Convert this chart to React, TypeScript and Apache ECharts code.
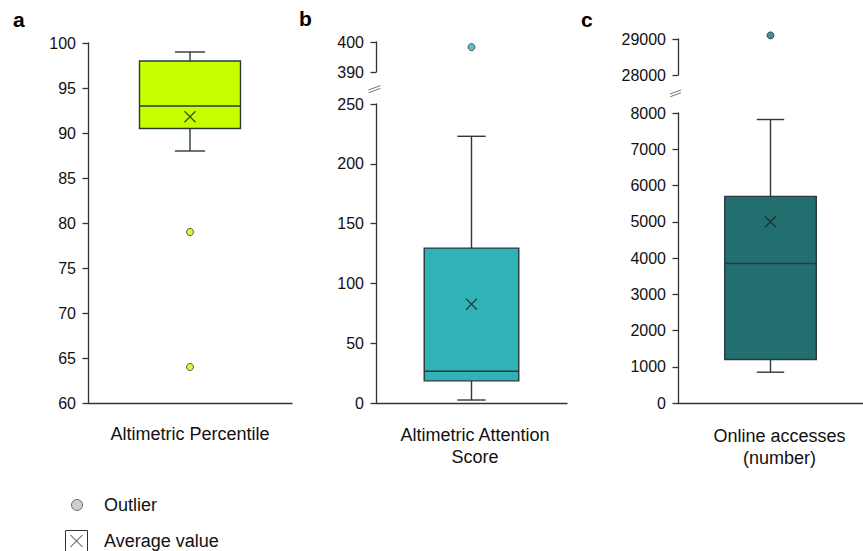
import React, { useEffect, useRef } from "react";
import * as echarts from "echarts";

// ---- data ----
const categoryA = ["Altimetric Percentile"];
const categoryB = ["Altimetric Attention\nScore"];
const categoryC = ["Online accesses\n(number)"];

// [min, q1, median, q3, max]
const boxA = [88, 90.5, 93, 98, 99];
const boxB = [2.5, 18.5, 26.5, 129.5, 223];
const boxC = [850, 1200, 3850, 5700, 7820];

const meanA = 91.8;
const meanB = 82.5;
const meanC = 5000;

const outliersA = [79, 64];
const outliersB = [398.3];
const outliersC = [29100];

// axis ranges [min, max, interval]
const axisA = [60, 100, 5];
const axisBLow = [0, 250, 50];
const axisBHigh = [390, 400, 10];
const axisCLow = [0, 8000, 1000];
const axisCHigh = [28000, 29000, 1000];

const colorA = "#c8ff00";
const colorB = "#30b3b6";
const colorC = "#226f70";
const edge = "#2b383c";
const axisColor = "#333";
const font = "'Liberation Sans', Arial, Helvetica, sans-serif";

function boxRender(fill: string) {
  return (params: any, api: any) => {
    const x = api.value(0);
    const pMin = api.coord([x, api.value(1)]);
    const pQ1 = api.coord([x, api.value(2)]);
    const pMed = api.coord([x, api.value(3)]);
    const pQ3 = api.coord([x, api.value(4)]);
    const pMax = api.coord([x, api.value(5)]);
    const band = api.size([1, 0])[0];
    const bw = band * 0.495;
    const cw = band * 0.148;
    const cx = pMed[0];
    const ls = { stroke: edge, lineWidth: 1.4 };
    return {
      type: "group",
      children: [
        { type: "line", shape: { x1: cx, y1: pQ1[1], x2: cx, y2: pMin[1] }, style: ls },
        { type: "line", shape: { x1: cx - cw / 2, y1: pMin[1], x2: cx + cw / 2, y2: pMin[1] }, style: ls },
        { type: "line", shape: { x1: cx, y1: pQ3[1], x2: cx, y2: pMax[1] }, style: ls },
        { type: "line", shape: { x1: cx - cw / 2, y1: pMax[1], x2: cx + cw / 2, y2: pMax[1] }, style: ls },
        {
          type: "rect",
          shape: { x: cx - bw / 2, y: pQ3[1], width: bw, height: pQ1[1] - pQ3[1] },
          style: { fill, stroke: edge, lineWidth: 1.4 },
        },
        { type: "line", shape: { x1: cx - bw / 2, y1: pMed[1], x2: cx + bw / 2, y2: pMed[1] }, style: ls },
      ],
    };
  };
}

const crossPath = "path://M0 0L10 10M10 0L0 10";

function yAxis(gridIndex: number, r: number[], tickLen = 5.5) {
  return {
    type: "value",
    gridIndex,
    min: r[0],
    max: r[1],
    interval: r[2],
    axisLine: { show: true, lineStyle: { color: axisColor, width: 1.3 } },
    axisTick: { show: true, length: tickLen, lineStyle: { color: axisColor, width: 1.3 } },
    axisLabel: {
      margin: 12,
      color: "#111",
      fontSize: 16,
      fontFamily: font,
      formatter: (v: number) => String(v),
    },
    splitLine: { show: false },
  };
}

function xAxis(gridIndex: number, data: string[], showLine: boolean, name?: string, gap = 20, padLeft = 0) {
  return {
    type: "category",
    gridIndex,
    data,
    axisLine: { show: showLine, lineStyle: { color: axisColor, width: 1.3 } },
    axisTick: { show: false },
    axisLabel: { show: false },
    name: name || "",
    nameLocation: "middle",
    nameGap: gap,
    nameTextStyle: {
      fontSize: 18,
      color: "#111",
      fontFamily: font,
      lineHeight: 22,
      padding: [0, 0, 0, padLeft],
    },
  };
}

export default function App() {
  const ref = useRef<HTMLDivElement>(null);
  useEffect(() => {
    if (!ref.current) return;
    const chart = echarts.init(ref.current, null, { renderer: "svg" });
    const meanStyle = { color: "rgba(0,0,0,0)", borderColor: "#222", borderWidth: 1.3 };
    const outStyle = (c: string) => ({ color: c, borderColor: edge, borderWidth: 1 });
    const option: any = {
      animation: false,
      backgroundColor: "#fff",
      grid: [
        { left: 88, top: 43, width: 204, height: 360 },
        { left: 376, top: 42, width: 191, height: 30 },
        { left: 376, top: 104, width: 191, height: 299 },
        { left: 678, top: 39, width: 198, height: 36 },
        { left: 678, top: 113, width: 198, height: 290 },
      ],
      xAxis: [
        xAxis(0, categoryA, true, categoryA[0], 20, 0),
        xAxis(1, categoryB, false),
        xAxis(2, categoryB, true, categoryB[0], 21, 7),
        xAxis(3, categoryC, false),
        xAxis(4, categoryC, true, categoryC[0], 22, 18),
      ],
      yAxis: [
        yAxis(0, axisA),
        yAxis(1, axisBHigh),
        yAxis(2, axisBLow),
        yAxis(3, axisCHigh),
        yAxis(4, axisCLow),
      ],
      series: [
        {
          type: "custom",
          xAxisIndex: 0,
          yAxisIndex: 0,
          renderItem: boxRender(colorA),
          encode: { x: 0, y: [1, 2, 3, 4, 5] },
          data: [[0, ...boxA]],
        },
        {
          type: "custom",
          xAxisIndex: 2,
          yAxisIndex: 2,
          renderItem: boxRender(colorB),
          encode: { x: 0, y: [1, 2, 3, 4, 5] },
          data: [[0, ...boxB]],
        },
        {
          type: "custom",
          xAxisIndex: 4,
          yAxisIndex: 4,
          renderItem: boxRender(colorC),
          encode: { x: 0, y: [1, 2, 3, 4, 5] },
          data: [[0, ...boxC]],
        },
        {
          type: "scatter", xAxisIndex: 0, yAxisIndex: 0, symbol: crossPath, symbolSize: 11,
          itemStyle: meanStyle, data: [[0, meanA]], z: 5,
        },
        {
          type: "scatter", xAxisIndex: 2, yAxisIndex: 2, symbol: crossPath, symbolSize: 11,
          itemStyle: meanStyle, data: [[0, meanB]], z: 5,
        },
        {
          type: "scatter", xAxisIndex: 4, yAxisIndex: 4, symbol: crossPath, symbolSize: 11,
          itemStyle: meanStyle, data: [[0, meanC]], z: 5,
        },
        {
          type: "scatter", xAxisIndex: 0, yAxisIndex: 0, symbol: "circle", symbolSize: 7,
          itemStyle: outStyle(colorA), data: outliersA.map((v) => [0, v]),
        },
        {
          type: "scatter", xAxisIndex: 1, yAxisIndex: 1, symbol: "circle", symbolSize: 7,
          itemStyle: outStyle(colorB), data: outliersB.map((v) => [0, v]), clip: false,
        },
        {
          type: "scatter", xAxisIndex: 3, yAxisIndex: 3, symbol: "circle", symbolSize: 7,
          itemStyle: outStyle(colorC), data: outliersC.map((v) => [0, v]), clip: false,
        },
      ],
      graphic: [
        { type: "text", x: 13, y: 19, style: { text: "a", font: `bold 21px ${font}`, fill: "#000", verticalAlign: "middle" } },
        { type: "text", x: 299, y: 18, style: { text: "b", font: `bold 21px ${font}`, fill: "#000", verticalAlign: "middle" } },
        { type: "text", x: 581, y: 19, style: { text: "c", font: `bold 21px ${font}`, fill: "#000", verticalAlign: "middle" } },
        // axis break marks
        { type: "line", shape: { x1: 368.5, y1: 90, x2: 380.5, y2: 85.5 }, style: { stroke: "#666", lineWidth: 0.9 } },
        { type: "line", shape: { x1: 368.5, y1: 92.8, x2: 380.5, y2: 88.3 }, style: { stroke: "#666", lineWidth: 0.9 } },
        { type: "line", shape: { x1: 670, y1: 94, x2: 681, y2: 90 }, style: { stroke: "#666", lineWidth: 0.9 } },
        { type: "line", shape: { x1: 670, y1: 96.8, x2: 681, y2: 92.8 }, style: { stroke: "#666", lineWidth: 0.9 } },
        // legend
        { type: "circle", shape: { cx: 77, cy: 505, r: 5.5 }, style: { fill: "#cfcfcf", stroke: "#666", lineWidth: 1 } },
        { type: "text", x: 104, y: 505, style: { text: "Outlier", font: `18px ${font}`, fill: "#111", verticalAlign: "middle" } },
        { type: "rect", shape: { x: 65.5, y: 530.5, width: 22, height: 22 }, style: { fill: "none", stroke: "#333", lineWidth: 1 } },
        { type: "line", shape: { x1: 70.5, y1: 535, x2: 82.5, y2: 547 }, style: { stroke: "#333", lineWidth: 1 } },
        { type: "line", shape: { x1: 82.5, y1: 535, x2: 70.5, y2: 547 }, style: { stroke: "#333", lineWidth: 1 } },
        { type: "text", x: 104, y: 541, style: { text: "Average value", font: `18px ${font}`, fill: "#111", verticalAlign: "middle" } },
      ],
    };
    chart.setOption(option);
    return () => chart.dispose();
  }, []);
  return (
    <div
      ref={ref}
      style={{ position: "fixed", left: 0, top: 0, width: 863, height: 551, background: "#fff" }}
    />
  );
}
